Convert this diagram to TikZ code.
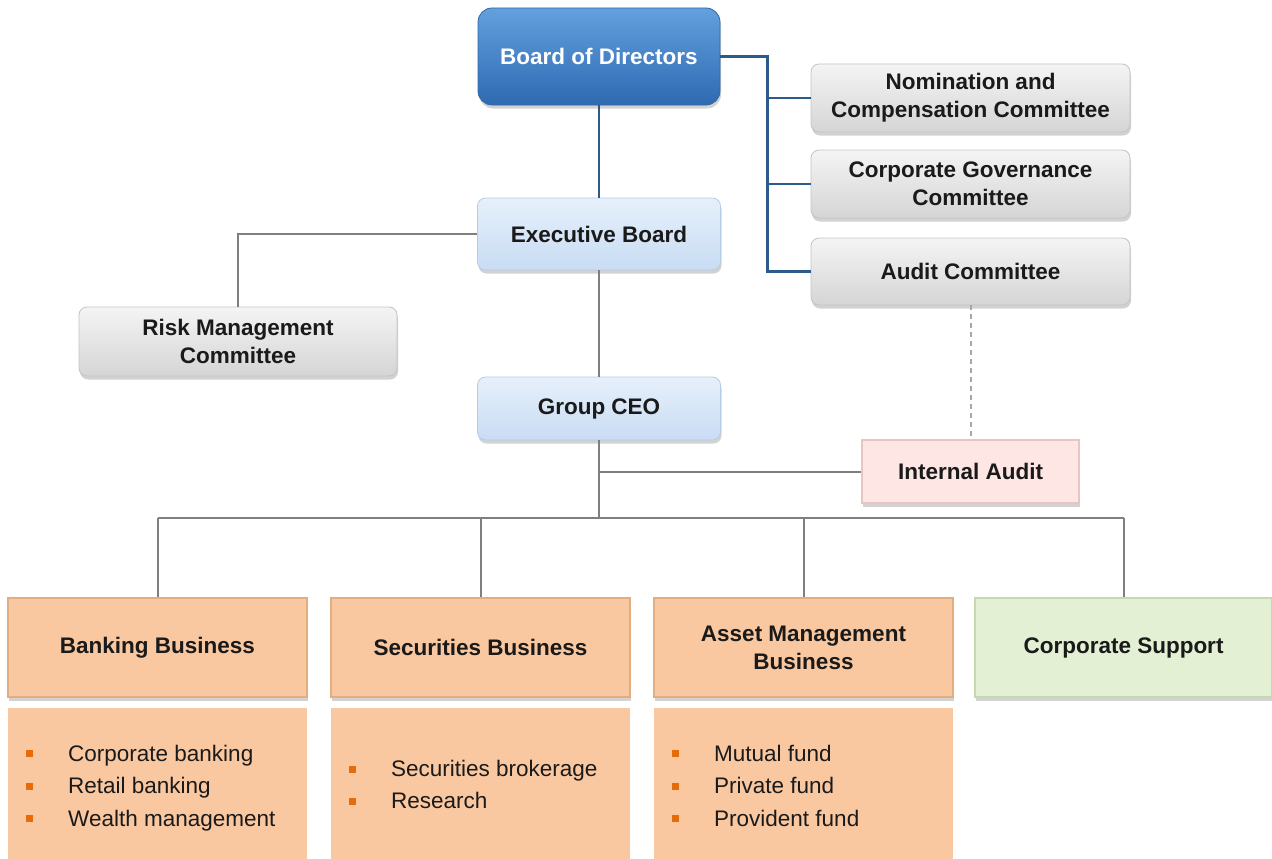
\documentclass[tikz,border=0pt]{standalone}
\usepackage{fontspec}
\setmainfont{Liberation Sans}
\usetikzlibrary{shadows}
\definecolor{bluetop}{HTML}{62A0DE}
\definecolor{bluebot}{HTML}{2F6AB2}
\definecolor{blueedge}{HTML}{3467A6}
\definecolor{graytop}{HTML}{F4F4F4}
\definecolor{graybot}{HTML}{D5D5D5}
\definecolor{grayedge}{HTML}{C4C4C4}
\definecolor{lbtop}{HTML}{E6F0FB}
\definecolor{lbbot}{HTML}{C8DCF3}
\definecolor{lbedge}{HTML}{B5CCE6}
\definecolor{pinkfill}{HTML}{FDE6E4}
\definecolor{pinkedge}{HTML}{E7C6C2}
\definecolor{peach}{HTML}{FAC8A0}
\definecolor{peachedge}{HTML}{E3AD80}
\definecolor{greenfill}{HTML}{E3F0D4}
\definecolor{greenedge}{HTML}{C6D8B0}
\definecolor{bulletc}{HTML}{E46C0A}
\definecolor{navyline}{HTML}{2B5A8B}
\definecolor{grayline}{HTML}{7F7F7F}
\definecolor{dashline}{HTML}{A6A6A6}
\definecolor{txt}{HTML}{1A1A1A}
\tikzset{
  box/.style={align=center, inner sep=0pt, text=txt,
    font=\bfseries\fontsize{22.5}{28}\selectfont},
  shad/.style={drop shadow={opacity=0.35, shadow xshift=1pt, shadow yshift=-3.5pt}},
  bluebox/.style={box, rounded corners=14pt, top color=bluetop, bottom color=bluebot,
    draw=blueedge, line width=0.8pt, text=white, shad},
  graybox/.style={box, rounded corners=8pt, top color=graytop, bottom color=graybot,
    draw=grayedge, line width=0.8pt, shad},
  lbbox/.style={box, rounded corners=8pt, top color=lbtop, bottom color=lbbot,
    draw=lbedge, line width=0.8pt, shad},
  pinkbox/.style={box, fill=pinkfill, draw=pinkedge, line width=1.2pt, shad},
  bizbox/.style={box, fill=peach, draw=peachedge, line width=1.2pt, shad},
  greenbox/.style={box, fill=greenfill, draw=greenedge, line width=1.2pt, shad},
  detail/.style={fill=peach, draw=none, inner sep=0pt},
  listtxt/.style={anchor=west, inner sep=0pt, text=txt,
    font=\fontsize{22.5}{32.5}\selectfont},
  blueline/.style={draw=navyline, line width=2.4pt},
  grayln/.style={draw=grayline, line width=2pt},
  dashln/.style={draw=dashline, line width=2pt, dashed, dash pattern=on 5pt off 4pt},
}
\newcommand{\bul}{\textcolor{bulletc}{\rule[0.3ex]{7pt}{7pt}}}
\begin{document}
\begin{tikzpicture}[x=1pt,y=-1pt]
\useasboundingbox (0,0) rectangle (1272,859);
\fill[white] (0,0) rectangle (1272,859);

% nodes
\node[bluebox, minimum width=242pt, minimum height=97pt] (bod) at (599,56.5) {Board of Directors};
\node[graybox, minimum width=319pt, minimum height=68pt] (nom) at (970.5,98) {Nomination and\\Compensation Committee};
\node[graybox, minimum width=319pt, minimum height=68pt] (gov) at (970.5,184) {Corporate Governance\\Committee};
\node[graybox, minimum width=319pt, minimum height=67pt] (aud) at (970.5,271.5) {Audit Committee};
\node[lbbox, minimum width=243pt, minimum height=72pt] (exec) at (599,234) {Executive Board};
\node[graybox, minimum width=318pt, minimum height=69pt] (risk) at (238,341.5) {Risk Management\\Committee};
\node[lbbox, minimum width=243pt, minimum height=63pt] (ceo) at (599,408.5) {Group CEO};
\node[pinkbox, minimum width=217pt, minimum height=63pt] (ia) at (970.5,471.5) {Internal Audit};

\node[bizbox, minimum width=299pt, minimum height=99pt] (bank) at (157.5,647.5) {Banking Business};
\node[bizbox, minimum width=299pt, minimum height=99pt] (sec) at (480.5,647.5) {Securities Business};
\node[bizbox, minimum width=299pt, minimum height=99pt] (asset) at (803.5,647.5) {Asset Management\\Business};
\node[greenbox, minimum width=297pt, minimum height=99pt] (cs) at (1123.5,647.5) {Corporate Support};

\node[detail, minimum width=299pt, minimum height=151pt] (bankd) at (157.5,783.5) {};
\node[detail, minimum width=299pt, minimum height=151pt] (secd) at (480.5,783.5) {};
\node[detail, minimum width=299pt, minimum height=151pt] (assetd) at (803.5,783.5) {};

\node[listtxt] (bankl) at (26,787) {\begin{tabular}{@{}l@{\hspace{35pt}}l@{}}\bul & Corporate banking\\ \bul & Retail banking\\ \bul & Wealth management\end{tabular}};
\node[listtxt] (secl) at (349,786) {\begin{tabular}{@{}l@{\hspace{35pt}}l@{}}\bul & Securities brokerage\\ \bul & Research\end{tabular}};
\node[listtxt] (assetl) at (672,787) {\begin{tabular}{@{}l@{\hspace{35pt}}l@{}}\bul & Mutual fund\\ \bul & Private fund\\ \bul & Provident fund\end{tabular}};

% blue connectors
\draw[blueline] (bod.east) -- ++(47,0) coordinate (bj) -- (bj |- aud.west) -- (aud.west);
\draw[blueline] (bj |- nom.west) -- (nom.west);
\draw[blueline] (bj |- gov.west) -- (gov.west);
\draw[blueline] (bod.south) -- (exec.north);

% gray connectors
\draw[grayln] (exec.west) -| (risk.north);
\draw[grayln] (exec.south) -- (ceo.north);
\coordinate (bus) at (599,518);
\draw[grayln] (ceo.south) -- (bus);
\draw[grayln] (ceo.south |- ia.west) -- (ia.west);
\draw[grayln] (bank.north |- bus) -- (cs.north |- bus);
\draw[grayln] (bank.north |- bus) -- (bank.north);
\draw[grayln] (sec.north |- bus) -- (sec.north);
\draw[grayln] (asset.north |- bus) -- (asset.north);
\draw[grayln] (cs.north |- bus) -- (cs.north);
\draw[dashln] (aud.south) -- (ia.north);
\end{tikzpicture}
\end{document}
